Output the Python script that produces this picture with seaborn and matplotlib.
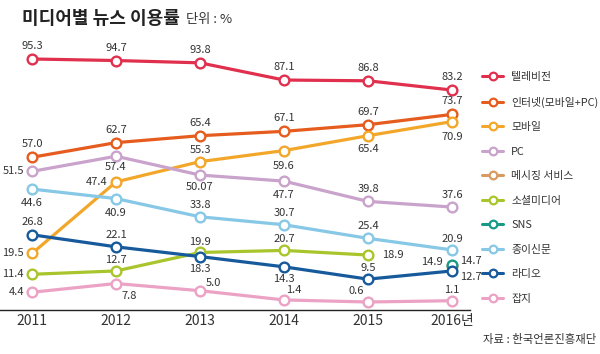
import matplotlib
matplotlib.use('Agg')
import matplotlib.pyplot as plt
import seaborn as sns
import pandas as pd
import numpy as np
from matplotlib.lines import Line2D

years = [2011, 2012, 2013, 2014, 2015, 2016]
year_labels = ['2011', '2012', '2013', '2014', '2015', '2016년']

media = ['텔레비전', '인터넷(모바일+PC)', '모바일', 'PC', '메시징 서비스',
         '소셜미디어', 'SNS', '종이신문', '라디오', '잡지']

tv = [95.3, 94.7, 93.8, 87.1, 86.8, 83.2]
internet = [57.0, 62.7, 65.4, 67.1, 69.7, 73.7]
mobile = [19.5, 47.4, 55.3, 59.6, 65.4, 70.9]
pc = [51.5, 57.4, 50.07, 47.7, 39.8, 37.6]
messaging = [np.nan, np.nan, np.nan, np.nan, np.nan, 14.7]
social = [11.4, 12.7, 19.9, 20.7, 18.9, np.nan]
sns_vals = [np.nan, np.nan, np.nan, np.nan, np.nan, 14.9]
newspaper = [44.6, 40.9, 33.8, 30.7, 25.4, 20.9]
radio = [26.8, 22.1, 18.3, 14.3, 9.5, 12.7]
magazine = [4.4, 7.8, 5.0, 1.4, 0.6, 1.1]

series = [tv, internet, mobile, pc, messaging, social, sns_vals, newspaper, radio, magazine]

colors = ['#e0304e', '#e65c1e', '#f2a72b', '#c9a3cb', '#d89a60',
          '#a8c62b', '#189a86', '#86c8e6', '#175a9c', '#eba2c4']

# label offsets in pixels (dx, dy, ha)
U, D = (0, 13, 'center'), (0, -13, 'center')
L, R = (-8, 0, 'right'), (8, 0, 'left')
offsets = [
    [U, U, U, U, U, U],
    [U, U, U, U, U, U],
    [L, L, (0, 12, 'center'), (0, -15, 'center'), D, (0, -15, 'center')],
    [L, (0, -11, 'center'), (0, -12, 'center'), (0, -14, 'center'), (0, 12, 'center'), (0, 12, 'center')],
    [None] * 5 + [(8, 5, 'left')],
    [L, (0, 11, 'center'), (0, 10, 'center'), (0, 11, 'center'), (14, 0, 'left'), None],
    [None] * 5 + [(-9, 3, 'right')],
    [(0, -14, 'center'), (0, -14, 'center'), (0, 12, 'center'), (0, 12, 'center'), (0, 12, 'center'), (0, 11, 'center')],
    [(0, 13, 'center'), (0, 12, 'center'), (0, -12, 'center'), (0, -12, 'center'), (0, 11, 'center'), (8, -6, 'left')],
    [L, (13, -12, 'center'), (13, 8, 'center'), (10, 10, 'center'), (-12, 11, 'center'), (0, 11, 'center')],
]

rows = []
for name, vals in zip(media, series):
    for y, v in zip(years, vals):
        rows.append({'year': y, 'value': v, 'media': name})
df = pd.DataFrame(rows)

sns.set_style('white')
plt.rcParams['font.family'] = ['Noto Sans CJK KR', 'DejaVu Sans']

fig = plt.figure(figsize=(6, 3.54), dpi=100)
ax = fig.add_axes([0, 1 - 310 / 354, 470 / 600, 260 / 354])

sns.lineplot(data=df, x='year', y='value', hue='media', hue_order=media,
             palette=colors, marker='o', markersize=7, linewidth=2.3,
             markeredgewidth=1.7, legend=False, ax=ax, sort=False)
for line in ax.lines:
    line.set_markeredgecolor(line.get_color())
    line.set_markerfacecolor('white')
    line.set_solid_capstyle('round')

def fmt(v):
    s = f"{v:.2f}".rstrip('0')
    if s.endswith('.'):
        s += '0'
    return s

for vals, offs in zip(series, offsets):
    for y, v, o in zip(years, vals, offs):
        if o is None or np.isnan(v):
            continue
        ax.annotate(fmt(v), (y, v), xytext=(o[0], o[1]), textcoords='offset pixels',
                    ha=o[2], va='center', fontsize=8, color='#333333')

ax.set_xlim(2011 - 32 / 84, 2011 - 32 / 84 + 470 / 84)
ax.set_ylim(-2.52, 98.8)
ax.set_xticks(years)
ax.set_xticklabels(year_labels, fontsize=10, color='#333333')
ax.set_yticks([])
ax.set_xlabel('')
ax.set_ylabel('')
ax.tick_params(axis='x', length=0, pad=3)
for s in ['top', 'right', 'left']:
    ax.spines[s].set_visible(False)
ax.spines['bottom'].set_color('#222222')
ax.spines['bottom'].set_linewidth(1.0)

handles = [Line2D([0], [0], color=c, lw=2.2, marker='o', markersize=5.5,
                  markerfacecolor='white', markeredgecolor=c, markeredgewidth=1.6)
           for c in colors]
fig.legend(handles, media, loc='upper left', bbox_to_anchor=(482 / 600, 1 - 72 / 354),
           frameon=False, fontsize=7.8, handlelength=1.95, handletextpad=0.75,
           labelspacing=1.34, borderaxespad=0, borderpad=0, labelcolor='#333333')

fig.text(22 / 600, 1 - 19 / 354, '미디어별 뉴스 이용률', fontsize=13, fontweight='bold',
         color='#222222', va='center', ha='left')
fig.text(186 / 600, 1 - 20 / 354, '단위 : %', fontsize=9.5, color='#333333',
         va='center', ha='left')
fig.text(596 / 600, 1 - 340 / 354, '자료 : 한국언론진흥재단', fontsize=8.2, color='#333333',
         va='center', ha='right')

fig.savefig('out.png', dpi=100)
